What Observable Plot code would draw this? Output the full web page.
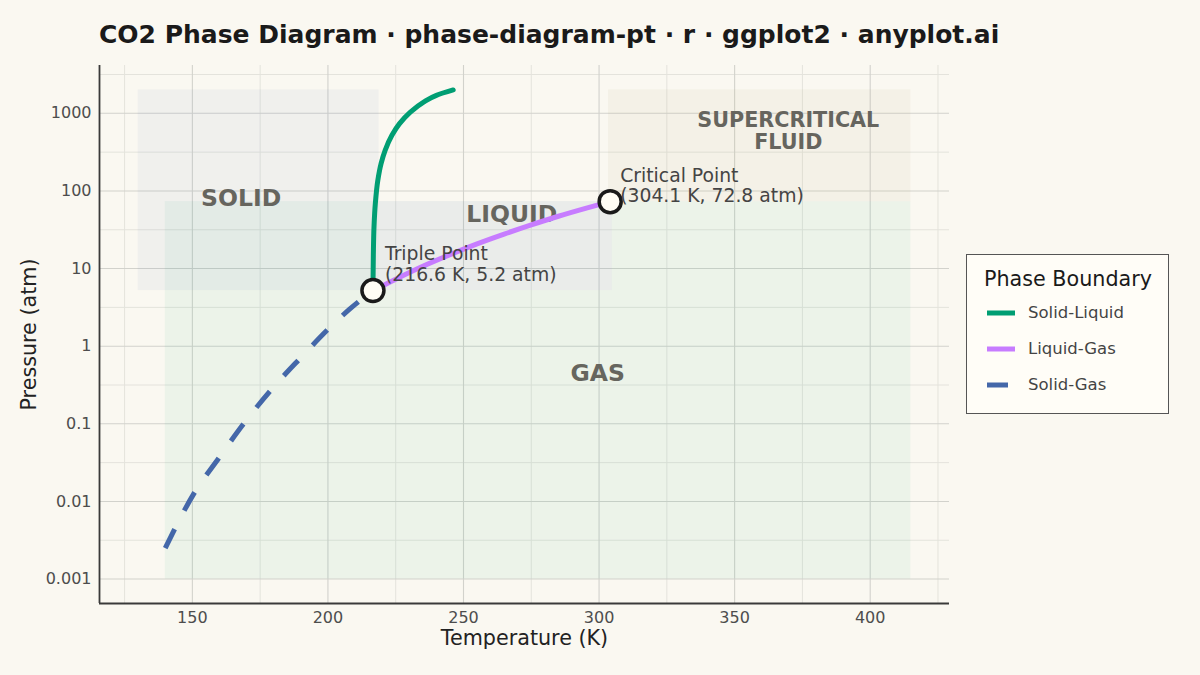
<!DOCTYPE html>
<html>
<head>
<meta charset="utf-8">
<script src="https://cdn.jsdelivr.net/npm/d3@7"></script>
<script src="https://cdn.jsdelivr.net/npm/@observablehq/plot@0.6"></script>
<style>
  html, body { margin: 0; padding: 0; background: #FAF8F1; }
  #wrap { position: relative; width: 1200px; height: 675px; overflow: hidden; background: #FAF8F1; font-family: "DejaVu Sans", sans-serif; }
  #title { position: absolute; left: 99px; top: 22px; font-size: 25px; line-height: 25px; font-weight: bold; color: #1a1a1a; white-space: nowrap; }
  #chart { position: absolute; left: 0; top: 0; }
  #legend { position: absolute; left: 966px; top: 254px; width: 201px; height: 158px; border: 1px solid #555; background: #FFFDF7; }
  #legend .lt { position: absolute; left: 17px; top: 12px; font-size: 20.7px; color: #1a1a1a; white-space: nowrap; }
  #legend .item { position: absolute; left: 20px; height: 20px; font-size: 16.5px; color: #444; white-space: nowrap; }
  #legend .item svg { position: absolute; left: 0; top: 0; }
  #legend .item span { position: absolute; left: 41px; top: 0px; line-height: 20px; }
</style>
</head>
<body>
<div id="wrap">
  <div id="chart"></div>
  <div id="title">CO2 Phase Diagram · phase-diagram-pt · r · ggplot2 · anyplot.ai</div>
  <div id="legend"></div>
</div>
<script>
// ---- data ----
const tempBreaks = [150, 200, 250, 300, 350, 400];
const tempMinor = [125, 175, 225, 275, 325, 375, 425];
const presBreaks = [0.001, 0.01, 0.1, 1, 10, 100, 1000];
const presLabels = ["0.001", "0.01", "0.1", "1", "10", "100", "1000"];
const presMinor = [0.00316, 0.0316, 0.316, 3.16, 31.6, 316, 3162];

const solidLiquidT = [216.6, 216.75, 217.0, 217.5, 218.4, 219.6, 221.1, 223.6, 226.4, 230.4, 235.3, 240.0, 246.2];
const solidLiquidP = [5.2, 15, 35, 70, 137, 225, 334, 521, 736, 1039, 1397, 1706, 2000];

const liquidGasT = [216.6, 225, 235, 245, 255, 265, 275, 285, 295, 304.1];
const liquidGasP = [5.2, 7.3, 10.7, 15.1, 20.8, 27.8, 36.5, 47.2, 59.6, 72.8];

const solidGasT = [140, 150.5, 159.7, 168.9, 179.3, 189.8, 200.8, 208, 216.6];
const solidGasP = [0.0025, 0.0125, 0.036, 0.10, 0.28, 0.70, 1.75, 3.0, 5.2];

const boundaryNames = ["Solid-Liquid", "Liquid-Gas", "Solid-Gas"];
const boundaryColors = ["#009E73", "#C77CFF", "#4467A9"];

const specialNames = ["Triple Point", "Critical Point"];
const specialT = [216.6, 304.1];
const specialP = [5.2, 72.8];

const regionNames = ["GAS", "LIQUID", "SOLID", "SUPERCRITICAL"];
const regionX1 = [140, 218.9, 130, 303.5];
const regionX2 = [415, 304.9, 218.9, 415];
const regionY1 = [0.001, 5.2, 5.2, 72.8];
const regionY2 = [72.8, 72.8, 2000, 2000];
const regionFill = ["#009E73", "#C77CFF", "#4467A9", "#B8A070"];
const regionOpacity = [0.055, 0.05, 0.05, 0.08];

const labelText = ["SOLID", "LIQUID", "GAS"];
const labelT = [168, 267.8, 299.5];
const labelP = [80, 50, 0.45];
const scText = "SUPERCRITICAL\nFLUID";
const scT = 369.8;
const scP = 600;

// ---- tables ----
const zip = (T, P, name) => T.map((t, i) => ({T: t, P: P[i], name}));
const sl = zip(solidLiquidT, solidLiquidP, boundaryNames[0]);
const lg = zip(liquidGasT, liquidGasP, boundaryNames[1]);
const sg = zip(solidGasT, solidGasP, boundaryNames[2]);
const regions = regionNames.map((n, i) => ({n, x1: regionX1[i], x2: regionX2[i], y1: regionY1[i], y2: regionY2[i], fill: regionFill[i], op: regionOpacity[i]}));
const labels = labelText.map((t, i) => ({t, T: labelT[i], P: labelP[i]}));
const special = specialNames.map((n, i) => ({n, T: specialT[i], P: specialP[i]}));

const xDomain = [115.75, 429.25];
const yDomain = [Math.pow(10, -3.315), Math.pow(10, 3.616)];

const chart = Plot.plot({
  width: 1200,
  height: 675,
  marginLeft: 99,
  marginRight: 251,
  marginTop: 65,
  marginBottom: 72,
  style: {background: "transparent", fontFamily: "DejaVu Sans, sans-serif", overflow: "visible"},
  x: {domain: xDomain, label: null},
  y: {type: "log", domain: yDomain, label: null},
  marks: [
    Plot.gridX(tempMinor, {stroke: "#e4e3dc", strokeOpacity: 1, strokeWidth: 1}),
    Plot.gridY(presMinor, {stroke: "#e4e3dc", strokeOpacity: 1, strokeWidth: 1}),
    Plot.gridX(tempBreaks, {stroke: "#d2d2cc", strokeOpacity: 1, strokeWidth: 1.1}),
    Plot.gridY(presBreaks, {stroke: "#d2d2cc", strokeOpacity: 1, strokeWidth: 1.1}),
    Plot.rect(regions, {x1: "x1", x2: "x2", y1: "y1", y2: "y2", fill: d => d.fill, fillOpacity: d => d.op}),
    Plot.axisX(tempBreaks, {tickSize: 0, tickPadding: 8, fontSize: 16, color: "#4d4d4d", label: null}),
    Plot.axisY(presBreaks, {tickSize: 0, tickPadding: 8, fontSize: 16, color: "#4d4d4d", label: null, tickFormat: d => presLabels[presBreaks.indexOf(d)]}),
    Plot.ruleX([xDomain[0]], {stroke: "#3a3a3a", strokeWidth: 1.8}),
    Plot.ruleY([yDomain[0]], {stroke: "#3a3a3a", strokeWidth: 1.8}),
    Plot.text(labels, {x: "T", y: "P", text: "t", fontSize: 23.5, fontWeight: "bold", fill: "#66655e"}),
    Plot.text([scText], {x: () => scT, y: () => scP, text: d => d, fontSize: 20.7, fontWeight: "bold", fill: "#66655e", lineHeight: 1.07}),
    Plot.line(sg, {x: "T", y: "P", stroke: boundaryColors[2], strokeWidth: 5, strokeDasharray: "21,21", curve: "monotone-x", strokeLinecap: "butt"}),
    Plot.line(lg, {x: "T", y: "P", stroke: boundaryColors[1], strokeWidth: 5, curve: "monotone-x"}),
    Plot.line(sl, {x: "T", y: "P", stroke: boundaryColors[0], strokeWidth: 5, curve: "monotone-y"}),
    Plot.dot(special, {x: "T", y: "P", r: 11, fill: "#FFFDF5", stroke: "#1a1a1a", strokeWidth: 3.5}),
    Plot.text([special[0]], {x: "T", y: "P", text: d => `${d.n}\n(${d.T} K, ${d.P} atm)`, textAnchor: "start", lineAnchor: "bottom", dx: 12, dy: -10, fontSize: 18.8, fill: "#444", lineHeight: 1.07}),
    Plot.text([special[1]], {x: "T", y: "P", text: d => `${d.n}\n(${d.T} K, ${d.P} atm)`, textAnchor: "start", lineAnchor: "bottom", dx: 10, dy: 0, fontSize: 18.8, fill: "#444", lineHeight: 1.07}),
    Plot.text(["Temperature (K)"], {frameAnchor: "bottom", lineAnchor: "middle", textAnchor: "middle", dy: 35, fontSize: 20.7, fill: "#222"}),
    Plot.text(["Pressure (atm)"], {frameAnchor: "left", lineAnchor: "middle", textAnchor: "middle", dx: -70, rotate: -90, fontSize: 20.7, fill: "#222"})
  ]
});
document.getElementById("chart").appendChild(chart);

// ---- legend ----
const legend = document.getElementById("legend");
legend.innerHTML = `<div class="lt">Phase Boundary</div>` + boundaryNames.map((n, i) => {
  const top = 48 + i * 36;
  const dash = i === 2 ? `stroke-dasharray="21,21"` : "";
  return `<div class="item" style="top:${top}px"><svg width="32" height="20"><line x1="0" x2="28" y1="10" y2="10" stroke="${boundaryColors[i]}" stroke-width="5" ${dash}/></svg><span>${n}</span></div>`;
}).join("");
</script>
</body>
</html>
